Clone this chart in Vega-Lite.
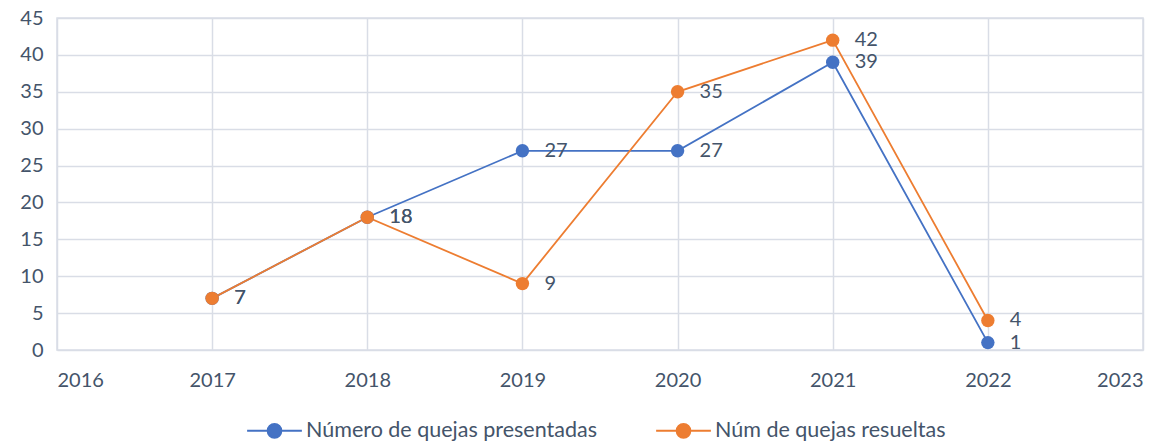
{
  "$schema": "https://vega.github.io/schema/vega-lite/v6.json",
  "width": 1086,
  "height": 332,
  "autosize": {"type": "none"},
  "padding": {"left": 57, "top": 18, "right": 28, "bottom": 97},
  "config": {
    "view": {"stroke": "#d9dde6", "strokeWidth": 1.5},
    "font": "Lato",
    "axis": {"labelFont": "Lato", "labelFontSize": 20, "labelColor": "#44546a", "gridColor": "#d9dde6", "gridWidth": 1.5, "ticks": false, "domain": false, "title": null},
    "legend": {"labelFont": "Lato", "labelFontSize": 21.5, "labelColor": "#44546a", "labelLimit": 400}
  },
  "data": {"values": [
    {"year": 2017, "value": 7, "serie": "Número de quejas presentadas"},
    {"year": 2018, "value": 18, "serie": "Número de quejas presentadas"},
    {"year": 2019, "value": 27, "serie": "Número de quejas presentadas"},
    {"year": 2020, "value": 27, "serie": "Número de quejas presentadas"},
    {"year": 2021, "value": 39, "serie": "Número de quejas presentadas"},
    {"year": 2022, "value": 1, "serie": "Número de quejas presentadas"},
    {"year": 2017, "value": 7, "serie": "Núm de quejas resueltas"},
    {"year": 2018, "value": 18, "serie": "Núm de quejas resueltas"},
    {"year": 2019, "value": 9, "serie": "Núm de quejas resueltas"},
    {"year": 2020, "value": 35, "serie": "Núm de quejas resueltas"},
    {"year": 2021, "value": 42, "serie": "Núm de quejas resueltas"},
    {"year": 2022, "value": 4, "serie": "Núm de quejas resueltas"}
  ]},
  "encoding": {
    "x": {"field": "year", "type": "quantitative", "scale": {"domain": [2016, 2023], "nice": false, "zero": false},
          "axis": {"values": [2016, 2017, 2018, 2019, 2020, 2021, 2022, 2023], "format": "d", "labelPadding": 20}},
    "y": {"field": "value", "type": "quantitative", "scale": {"domain": [0, 45], "nice": false},
          "axis": {"values": [0, 5, 10, 15, 20, 25, 30, 35, 40, 45], "labelPadding": 14}},
    "color": {"field": "serie", "type": "nominal",
              "scale": {"domain": ["Número de quejas presentadas", "Núm de quejas resueltas"], "range": ["#4472c4", "#ed7d31"]},
              "legend": {"orient": "none", "legendX": 189, "legendY": 384, "direction": "horizontal", "title": null,
                         "symbolType": "M-1,0H-0.25M0.25,0H1M0.25,0A0.25,0.25 0 1,1 -0.25,0A0.25,0.25 0 1,1 0.25,0",
                         "symbolSize": 3000, "symbolStrokeWidth": 2, "labelOffset": 3, "columnPadding": 55, "symbolOpacity": 1, "labelLimit": 400,
                         "encode": {"symbols": {"update": {"stroke": {"scale": "color", "field": "value"}, "fill": {"scale": "color", "field": "value"}}}}}}
  },
  "layer": [
    {"mark": {"type": "rule", "strokeWidth": 2}, "data": {"values": [{"x": 2016}]},
     "encoding": {"x": {"field": "x", "type": "quantitative"}, "y": {"datum": 0}, "y2": {"datum": 45}, "color": {"value": "#b4c0d4"}}},
    {"mark": {"type": "line", "strokeWidth": 1.8}},
    {"mark": {"type": "point", "filled": true, "size": 180, "opacity": 1}},
    {"mark": {"type": "text", "align": "left", "baseline": "middle", "dx": 22, "fontSize": 20, "font": "Lato"},
     "encoding": {"text": {"field": "value", "type": "quantitative"}, "color": {"value": "#44546a"}}}
  ]
}
